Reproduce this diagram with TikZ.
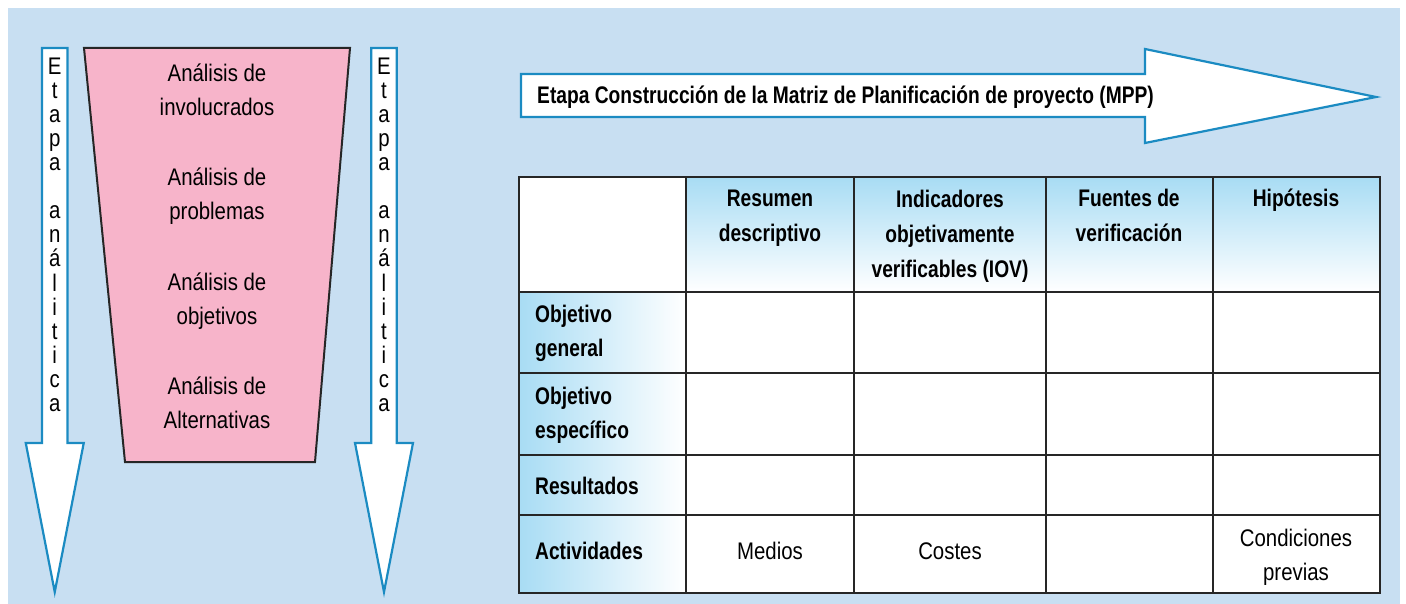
\documentclass[tikz,border=0pt]{standalone}
\usepackage{fontspec}
\setmainfont{Liberation Sans}[FakeStretch=0.85,BoldFeatures={FakeStretch=0.8}]
\usetikzlibrary{positioning}

\definecolor{fondo}{RGB}{200,223,242}
\definecolor{azulflecha}{RGB}{27,139,194}
\definecolor{rosa}{RGB}{247,180,202}
\definecolor{celeste}{RGB}{168,220,244}

\tikzset{
	etapa/.style={draw=azulflecha,fill=white,line width=2.2pt,line join=miter},
	embudo/.style={draw=black!85,fill=rosa,line width=2pt},
	rejilla/.style={draw=black!85,line width=2pt},
	letra/.style={inner sep=0pt,anchor=base,font=\fontsize{24}{24}\selectfont},
	% base = linea de base de la ultima linea
	texto/.style={inner sep=0pt,anchor=base,align=center,font=\fontsize{24}{34}\selectfont},
	cabecera/.style={inner sep=0pt,anchor=base,align=center,font=\fontsize{24}{35}\selectfont\bfseries},
	fila/.style={inner sep=0pt,anchor=base west,align=left,font=\fontsize{24}{34}\selectfont\bfseries}
}

\begin{document}
\begin{tikzpicture}[x=1pt,y=-1pt]
	\useasboundingbox (0,0) rectangle (1406,604);
	\fill[fondo] (8,8) rectangle (1400,604);

	% flechas verticales "Etapa analitica"
	\foreach \cx/\nm in {54.75/izq,384/der}{
		\draw[etapa] (\cx-12.75,48) -- (\cx+12.75,48) -- (\cx+12.75,443) -- (\cx+29,443)
			-- (\cx,592) -- (\cx-29,443) -- (\cx-12.75,443) -- cycle;
		\foreach \l [count=\i from 0] in {E,t,a,p,a,{},a,n,á,l,i,t,i,c,a}
			\node[letra] (\nm\i) at (\cx,75+24*\i) {\l};
	}

	% embudo de analisis
	\draw[embudo] (84,48) -- (350,48) -- (315,462) -- (125,462) -- cycle;
	\node[texto] (involucrados) at (217,116) {Análisis de\\involucrados};
	\node[texto] (problemas) at (217,220) {Análisis de\\problemas};
	\node[texto] (objetivos) at (217,324) {Análisis de\\objetivos};
	\node[texto] (alternativas) at (217,428) {Análisis de\\Alternativas};

	% flecha MPP
	\draw[etapa] (521,74) -- (1145,74) -- (1145,49) -- (1376,97) -- (1145,143)
		-- (1145,117) -- (521,117) -- cycle;
	\node[inner sep=0pt,anchor=base west,font=\fontsize{24}{24}\selectfont\bfseries]
		(mpp) at (537,104) {Etapa Construcción de la Matriz de Planificación de proyecto (MPP)};

	% matriz
	\fill[white] (519,177) rectangle (1380,593);
	\shade[top color=celeste,bottom color=white] (686,177) rectangle (1380,292);
	\shade[left color=celeste,right color=white] (519,292) rectangle (686,593);
	\draw[rejilla] (519,177) rectangle (1380,593);
	\foreach \x in {686,854,1046,1213}
		\draw[rejilla] (\x,177) -- (\x,593);
	\foreach \y in {292,373,455,515}
		\draw[rejilla] (519,\y) -- (1380,\y);

	\node[cabecera] (resumen) at (770,242) {Resumen\\descriptivo};
	\node[cabecera] (iov) at (950,277) {Indicadores\\objetivamente\\verificables (IOV)};
	\node[cabecera] (fuentes) at (1129,242) {Fuentes de\\verificación};
	\node[cabecera] (hipotesis) at (1296,207) {Hipótesis};

	\node[fila] (general) at (535,356) {Objetivo\\general};
	\node[fila] (especifico) at (535,438) {Objetivo\\específico};
	\node[fila] (resultados) at (535,494) {Resultados};
	\node[fila] (actividades) at (535,559) {Actividades};

	\node[texto] (medios) at (770,559) {Medios};
	\node[texto] (costes) at (950,559) {Costes};
	\node[texto] (condiciones) at (1296,580) {Condiciones\\previas};
\end{tikzpicture}
\end{document}
